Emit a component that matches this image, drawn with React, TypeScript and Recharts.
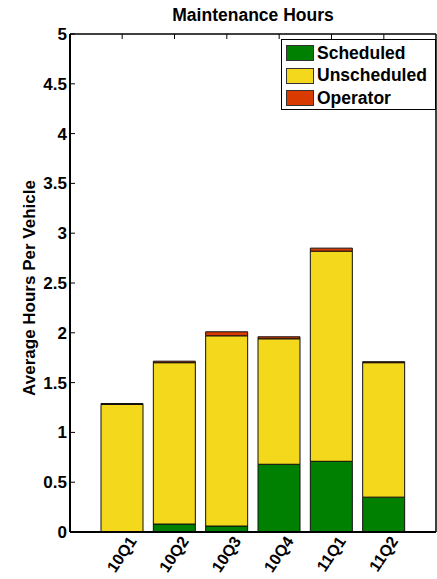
import React from 'react';
import { BarChart, Bar, XAxis, YAxis, Legend } from 'recharts';

const categories = ['10Q1', '10Q2', '10Q3', '10Q4', '11Q1', '11Q2'];
const scheduled = [0, 0.08, 0.06, 0.68, 0.71, 0.35];
const unscheduled = [1.28, 1.62, 1.91, 1.26, 2.11, 1.35];
const operator = [0.01, 0.015, 0.04, 0.02, 0.03, 0.01];
const yTicks = [0, 0.5, 1, 1.5, 2, 2.5, 3, 3.5, 4, 4.5, 5];
const seriesKeys = ['scheduled', 'unscheduled', 'operator'];
const seriesNames = ['Scheduled', 'Unscheduled', 'Operator'];
const seriesColors = ['#008000', '#F4D81C', '#D93A00'];
const title = 'Maintenance Hours';
const yLabel = 'Average Hours Per Vehicle';

const data = categories.map((c, i) => ({
  cat: c,
  scheduled: scheduled[i],
  unscheduled: unscheduled[i],
  operator: operator[i],
}));

const FONT = '"Liberation Sans", Arial, Helvetica, sans-serif';

const LeftTick = (props: any) => {
  const { x, y, payload } = props;
  return (
    <g>
      <line x1={x} x2={x + 5} y1={y} y2={y} stroke="#000" strokeWidth={1} />
      <text x={x - 3} y={y + 6} textAnchor="end" fontFamily={FONT} fontWeight="bold" fontSize={17} fill="#000">
        {String(payload.value)}
      </text>
    </g>
  );
};

const RightTick = (props: any) => {
  const { x, y } = props;
  return <line x1={x - 5} x2={x} y1={y} y2={y} stroke="#000" strokeWidth={1} />;
};

const TopTick = (props: any) => {
  const { x, y } = props;
  return <line x1={x} x2={x} y1={y} y2={y + 5} stroke="#000" strokeWidth={1} />;
};

const BottomTick = (props: any) => {
  const { x, y, payload } = props;
  const tx = x + 15;
  const ty = y + 9;
  return (
    <text
      x={tx}
      y={ty}
      transform={`rotate(-56, ${tx}, ${ty})`}
      textAnchor="end"
      fontFamily={FONT}
      fontWeight="bold"
      fontSize={16}
      fill="#000"
    >
      {payload.value}
    </text>
  );
};

const LegendBox = () => (
  <div
    style={{
      width: 153,
      height: 67,
      border: '1px solid #000',
      background: '#fff',
      boxSizing: 'content-box',
      fontFamily: FONT,
      fontWeight: 'bold',
      fontSize: 17.5,
      paddingTop: 2,
    }}
  >
    {seriesNames.map((n, i) => (
      <div key={n} style={{ display: 'flex', alignItems: 'center', height: 22.5 }}>
        <div
          style={{
            width: 26,
            height: 14,
            background: seriesColors[i],
            border: '1px solid #333',
            marginLeft: 4,
            marginRight: 3,
          }}
        />
        <span style={{ lineHeight: '17px' }}>{n}</span>
      </div>
    ))}
  </div>
);

export default function App() {
  return (
    <div style={{ position: 'absolute', left: 0, top: 0, background: '#fff' }}>
      <BarChart width={437} height={579} data={data} margin={{ top: 33, right: 0, bottom: 0, left: 0 }}>
        <XAxis
          dataKey="cat"
          height={47}
          padding={{ left: 26, right: 26 }}
          tickLine={false}
          tickSize={0}
          tickMargin={0}
          tick={<BottomTick />}
          interval={0}
          axisLine={{ stroke: '#000', strokeWidth: 2 }}
        />
        <XAxis
          xAxisId="top"
          dataKey="cat"
          orientation="top"
          height={1}
          padding={{ left: 26, right: 26 }}
          tickLine={false}
          tickSize={0}
          tickMargin={0}
          tick={<TopTick />}
          interval={0}
          axisLine={{ stroke: '#000', strokeWidth: 1.5 }}
          label={{
            content: (p: any) => {
              const vb = p.viewBox;
              return (
                <text
                  x={vb.x + vb.width / 2}
                  y={vb.y - 12}
                  textAnchor="middle"
                  fontFamily={FONT}
                  fontWeight="bold"
                  fontSize={17.5}
                  fill="#000"
                >
                  {title}
                </text>
              );
            },
          }}
        />
        <YAxis
          type="number"
          domain={[0, 5]}
          ticks={yTicks}
          width={70}
          tickLine={false}
          tickSize={0}
          tickMargin={0}
          tick={<LeftTick />}
          interval={0}
          axisLine={{ stroke: '#000', strokeWidth: 2 }}
          label={{
            content: (p: any) => {
              const vb = p.viewBox;
              const cx = vb.x + 35;
              const cy = vb.y + vb.height / 2 + 5;
              return (
                <text
                  x={cx}
                  y={cy}
                  transform={`rotate(-90, ${cx}, ${cy})`}
                  textAnchor="middle"
                  fontFamily={FONT}
                  fontWeight="bold"
                  fontSize={17}
                  fill="#000"
                >
                  {yLabel}
                </text>
              );
            },
          }}
        />
        <YAxis
          yAxisId="r"
          orientation="right"
          type="number"
          domain={[0, 5]}
          ticks={yTicks}
          width={1}
          tickLine={false}
          tickSize={0}
          tickMargin={0}
          tick={<RightTick />}
          interval={0}
          axisLine={{ stroke: '#000', strokeWidth: 1.5 }}
        />
        <Legend
          layout="horizontal"
          verticalAlign="middle"
          align="center"
          content={<LegendBox />}
          wrapperStyle={{ top: 39, left: 281, width: 155, height: 69 }}
        />
        {seriesKeys.map((k, i) => (
          <Bar
            key={k}
            dataKey={k}
            name={seriesNames[i]}
            stackId="a"
            fill={seriesColors[i]}
            stroke="#111"
            strokeWidth={1}
            barSize={42}
            isAnimationActive={false}
          />
        ))}
      </BarChart>
    </div>
  );
}
